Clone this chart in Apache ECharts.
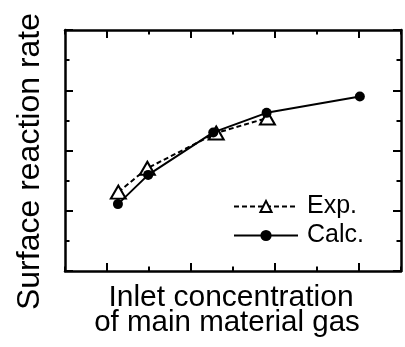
<!DOCTYPE html>
<html>
<head>
<meta charset="utf-8">
<script src="https://cdn.jsdelivr.net/npm/echarts@6/dist/echarts.min.js"></script>
<style>
  html, body { margin: 0; padding: 0; background: #fff; }
  #chart { width: 405px; height: 347px; }
</style>
</head>
<body>
<div id="chart"></div>
<script>
// Measured points (arbitrary units on both axes)
const expX = [1.27, 1.96, 3.60, 4.82];
const expY = [2.62, 3.41, 4.58, 5.08];
const calcX = [1.26, 1.98, 3.53, 4.80, 7.02];
const calcY = [2.22, 3.19, 4.60, 5.25, 5.79];

const seriesNames = ['Exp.', 'Calc.'];
const yTitle = 'Surface reaction rate';
const xTitleLines = ['Inlet concentration', 'of main material gas'];

const FONT = '"Liberation Sans", Arial, Helvetica, sans-serif';

const pairs = (xs, ys) => xs.map((x, i) => [x, ys[i]]);

// Frame axis: no labels, inward ticks; major and minor ticks get different lengths
function frameAxis(position, majorLen, minorLen) {
  return {
    type: 'value',
    position: position,
    min: 0,
    max: 8,
    interval: 2,
    axisLine: { show: true, onZero: false, lineStyle: { color: '#000', width: 2.5 } },
    axisTick: { show: true, inside: true, length: majorLen, lineStyle: { color: '#000', width: 2 } },
    minorTick: { show: true, splitNumber: 2, length: minorLen, lineStyle: { color: '#000', width: 2 } },
    axisLabel: { show: false },
    splitLine: { show: false },
    minorSplitLine: { show: false }
  };
}

const chart = echarts.init(document.getElementById('chart'), null, { renderer: 'canvas' });

chart.setOption({
  animation: false,
  backgroundColor: '#fff',
  grid: { left: 65, top: 30, right: 4, bottom: 76, containLabel: false },
  xAxis: [frameAxis('bottom', 4.5, 8), frameAxis('top', 4.5, 8)],
  yAxis: [frameAxis('left', 8, 4.5), frameAxis('right', 8, 4.5)],
  legend: {
    orient: 'vertical',
    left: 228,
    top: 189,
    itemWidth: 64,
    itemHeight: 14,
    itemGap: 4,
    data: seriesNames,
    textStyle: { color: '#000', fontSize: 25, fontFamily: FONT, padding: [0, 0, 0, 4] }
  },
  series: [
    {
      name: seriesNames[0],
      type: 'line',
      data: pairs(expX, expY),
      symbol: 'triangle',
      symbolSize: [15, 13],
      itemStyle: { color: '#fff', borderColor: '#000', borderWidth: 2 },
      lineStyle: { color: '#000', width: 2, type: [5, 3] },
      z: 2
    },
    {
      name: seriesNames[1],
      type: 'line',
      data: pairs(calcX, calcY),
      symbol: 'circle',
      symbolSize: 10,
      itemStyle: { color: '#000' },
      lineStyle: { color: '#000', width: 2 },
      z: 3
    }
  ],
  graphic: [
    {
      type: 'text',
      x: 30,
      y: 161.5,
      rotation: Math.PI / 2,
      style: {
        text: yTitle,
        fill: '#000',
        font: '32px ' + FONT,
        align: 'center',
        verticalAlign: 'middle'
      }
    },
    {
      type: 'text',
      x: 231,
      y: 298,
      style: {
        text: xTitleLines[0],
        fill: '#000',
        font: '30px ' + FONT,
        align: 'center',
        verticalAlign: 'middle'
      }
    },
    {
      type: 'text',
      x: 227,
      y: 323,
      style: {
        text: xTitleLines[1],
        fill: '#000',
        font: '29.5px ' + FONT,
        align: 'center',
        verticalAlign: 'middle'
      }
    }
  ]
});
</script>
</body>
</html>
